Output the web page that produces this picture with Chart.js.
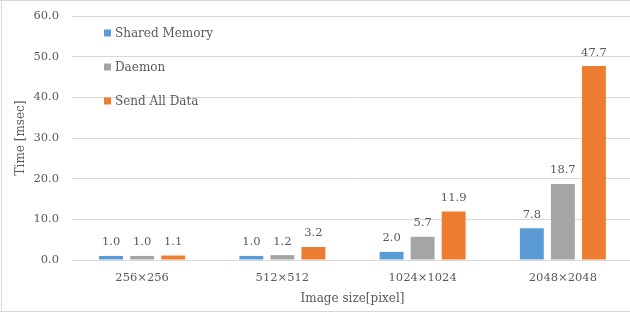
<!DOCTYPE html>
<html>
<head>
<meta charset="utf-8">
<script src="https://cdn.jsdelivr.net/npm/chart.js@4.4.1/dist/chart.umd.min.js"></script>
<style>
  html, body { margin: 0; padding: 0; background: #fff; overflow: hidden; }
  #wrap { position: relative; width: 630px; height: 314px; overflow: hidden; background: #fff; }
  #wrap canvas { position: absolute; left: 0; top: 0; }
  .bd { position: absolute; background: #d9d9d9; pointer-events: none; }
</style>
</head>
<body>
<div id="wrap">
  <canvas id="c" width="634" height="314" style="width:634px;height:314px"></canvas>
  <div class="bd" style="left:0;top:0;width:630px;height:1px"></div>
  <div class="bd" style="left:1px;top:0;width:1px;height:312px"></div>
  <div class="bd" style="left:0;top:311px;width:630px;height:1px"></div>
</div>
<script>
const categories = ['256×256', '512×512', '1024×1024', '2048×2048'];
const seriesNames = ['Shared Memory', 'Daemon', 'Send All Data'];
const sharedMemory = [1.0, 1.0, 2.0, 7.8];
const daemon = [1.0, 1.2, 5.7, 18.7];
const sendAllData = [1.1, 3.2, 11.9, 47.7];
const yTicks = [0, 10, 20, 30, 40, 50, 60];
const colors = ['#5b9bd5', '#a5a5a5', '#ed7d31'];
const FONT = "'DejaVu Serif', serif";
const TXT = '#595959';

const valueLabels = {
  id: 'valueLabels',
  afterDatasetsDraw(chart) {
    const ctx = chart.ctx;
    ctx.save();
    ctx.font = '11.5px ' + FONT;
    ctx.fillStyle = TXT;
    ctx.textAlign = 'center';
    ctx.textBaseline = 'alphabetic';
    chart.data.datasets.forEach((ds, i) => {
      const meta = chart.getDatasetMeta(i);
      meta.data.forEach((el, j) => {
        ctx.fillText(ds.data[j].toFixed(1), el.x, el.y - 10.5);
      });
    });
    ctx.restore();
  }
};

const innerLegend = {
  id: 'innerLegend',
  afterDraw(chart) {
    const ctx = chart.ctx;
    ctx.save();
    ctx.font = '12px ' + FONT;
    ctx.textAlign = 'left';
    ctx.textBaseline = 'middle';
    const x0 = chart.chartArea.left + 32;
    chart.data.datasets.forEach((ds, i) => {
      const cy = chart.chartArea.top + 17 + i * 34;
      ctx.fillStyle = ds.backgroundColor;
      ctx.fillRect(x0, cy - 3.5, 7, 7);
      ctx.fillStyle = TXT;
      ctx.fillText(ds.label, x0 + 11, cy + 0.5);
    });
    ctx.restore();
  }
};

new Chart(document.getElementById('c'), {
  type: 'bar',
  data: {
    labels: categories,
    datasets: [
      { label: seriesNames[0], data: sharedMemory, backgroundColor: colors[0] },
      { label: seriesNames[1], data: daemon, backgroundColor: colors[1] },
      { label: seriesNames[2], data: sendAllData, backgroundColor: colors[2] }
    ]
  },
  options: {
    responsive: false,
    animation: false,
    devicePixelRatio: 1,
    layout: { padding: { left: 0, right: 1, top: 16, bottom: 0 } },
    datasets: { bar: { categoryPercentage: 0.664, barPercentage: 0.77 } },
    plugins: {
      legend: { display: false },
      tooltip: { enabled: false }
    },
    scales: {
      x: {
        grid: { display: false, drawTicks: false },
        border: { display: true, color: '#d9d9d9', width: 1 },
        ticks: { color: TXT, font: { family: FONT, size: 11.5 }, padding: 11, maxRotation: 0 },
        title: { display: true, text: 'Image size[pixel]', color: TXT, font: { family: FONT, size: 12 }, padding: { top: 0, bottom: 8 } },
        afterFit(s) { s.height = 54; s.paddingLeft = 0; s.paddingRight = 0; }
      },
      y: {
        min: 0, max: 60,
        afterBuildTicks(s) { s.ticks = yTicks.map(v => ({ value: v })); },
        grid: { color: '#d9d9d9', drawTicks: false },
        border: { display: false },
        ticks: { color: TXT, font: { family: FONT, size: 11.5 }, padding: 13, callback: v => Number(v).toFixed(1) },
        title: { display: true, text: 'Time [msec]', color: TXT, font: { family: FONT, size: 12 }, padding: { top: 14, bottom: 0 } },
        afterFit(s) { s.width = 72; s.paddingTop = 0; s.paddingBottom = 0; }
      }
    }
  },
  plugins: [valueLabels, innerLegend]
});
</script>
</body>
</html>
